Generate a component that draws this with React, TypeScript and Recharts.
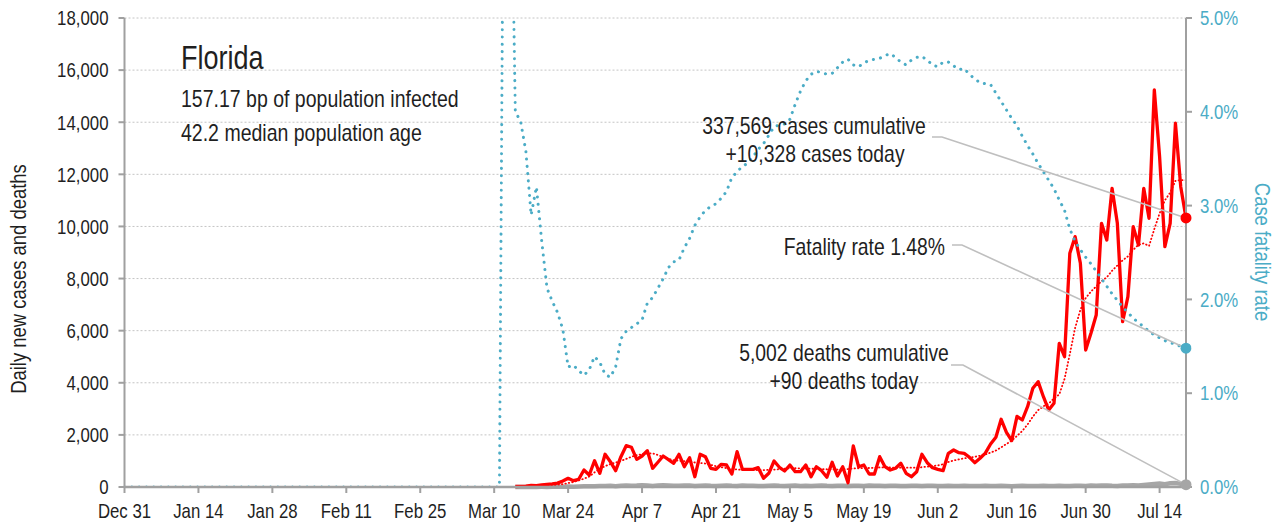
import React from 'react';
import { ComposedChart, Line, XAxis, YAxis, CartesianGrid } from 'recharts';

// Liberation Sans squeezed to 82% width stands in for the narrow face of the original
const FONT = "'Liberation Sans', Arial, sans-serif";
const SQUEEZE = 0.82;
const RED = '#ff0000';
const TEAL = '#4bacc6';
const GRAY = '#a6a6a6';
const AXIS = '#a0a0a0';
const LEADER = '#bfbfbf';
const INK = '#1f1f1f';

// day 0 = Dec 31; the daily series start at day 70 (Mar 10)
const FIRST_DAY = 70;

const tickDays = [0, 14, 28, 42, 56, 70, 84, 98, 112, 126, 140, 154, 168, 182, 196];
const tickLabels = ['Dec 31', 'Jan 14', 'Jan 28', 'Feb 11', 'Feb 25', 'Mar 10', 'Mar 24', 'Apr 7',
  'Apr 21', 'May 5', 'May 19', 'Jun 2', 'Jun 16', 'Jun 30', 'Jul 14'];
const leftTicks = [0, 2000, 4000, 6000, 8000, 10000, 12000, 14000, 16000, 18000];
const rightTicks = [0, 0.01, 0.02, 0.03, 0.04, 0.05];

const dailyCases = [
  null, null, null, null,
  20, 25, 35, 60, 50, 80, 100, 120, 150, 230,
  334, 242, 296, 652, 460, 1009, 526, 1255, 971, 626,
  1163, 1585, 1524, 1063, 1190, 1393, 718, 950, 1190, 1050,
  910, 1255, 779, 1124, 395, 1255, 1163, 718, 679, 871,
  844, 499, 1355, 679, 680, 679, 741, 334, 526, 998,
  756, 614, 844, 587, 587, 844, 395, 779, 626, 372,
  948, 422, 779, 165, 1574, 779, 844, 499, 499, 1163,
  779, 652, 718, 910, 526, 395, 587, 1255, 933, 741,
  679, 626, 1293, 1420, 1316, 1293, 1140, 933, 1102, 1300,
  1650, 1907, 2598, 2100, 1780, 2710, 2571, 3082, 3788, 4043,
  3466, 2955, 3212, 5515, 5001, 8969, 9607, 8586, 5258, 5899,
  6601, 10121, 9480, 11464, 10121, 6345, 7304, 9990, 9288, 11464,
  10313, 15237, 12677, 9223, 10121, 13960, 11526, 10328,
];

const casesTrend = [
  0, 2, 4, 6,
  8, 12, 16, 22, 30, 40, 53, 67, 85, 110,
  150, 190, 250, 320, 400, 560, 700, 800, 880, 940,
  1000, 1080, 1160, 1220, 1260, 1290, 1290, 1230, 1150, 1080,
  1030, 1010, 990, 970, 940, 920, 900, 850, 800, 760,
  720, 690, 670, 660, 655, 650, 650, 650, 655, 665,
  685, 705, 720, 720, 715, 710, 700, 700, 690, 680,
  680, 670, 680, 690, 710, 720, 730, 730, 740, 750,
  755, 750, 745, 740, 740, 740, 740, 760, 780, 800,
  830, 870, 960, 1020, 1060, 1100, 1130, 1160, 1200, 1250,
  1320, 1400, 1520, 1650, 1780, 1960, 2150, 2400, 2700, 2950,
  3100, 3200, 3400, 3550, 4150, 5100, 6100, 6800, 7250, 7500,
  7700, 7900, 8050, 8300, 8500, 8700, 8850, 9100, 9300, 9350,
  9250, 9900, 10500, 11000, 11300, 11750, 11780, 11780,
];

const dailyDeaths = [
  null, null, null, null,
  0, 1, 2, 2, 3, 5, 4, 8, 10, 12,
  15, 10, 20, 25, 30, 28, 35, 40, 45, 30,
  45, 60, 50, 55, 70, 60, 40, 55, 65, 60,
  50, 45, 60, 55, 40, 50, 60, 45, 40, 50,
  55, 45, 40, 60, 50, 45, 40, 35, 50, 55,
  45, 40, 50, 55, 40, 45, 35, 50, 60, 45,
  40, 50, 45, 35, 50, 45, 40, 55, 50, 45,
  40, 50, 45, 35, 40, 50, 45, 40, 50, 45,
  40, 35, 45, 40, 35, 45, 40, 35, 40, 45,
  40, 35, 45, 40, 30, 40, 45, 40, 35, 40,
  45, 40, 35, 45, 40, 35, 50, 45, 40, 55,
  50, 60, 55, 45, 40, 60, 55, 70, 60, 80,
  100, 120, 130, 110, 140, 150, 120, 90,
];

const fatalityRate = [
  0, 0, 0.09, 0.075,
  0.040, 0.039, 0.0358, 0.029, 0.032, 0.0262, 0.0212, 0.0198, 0.0186, 0.0168,
  0.0128, 0.0130, 0.0124, 0.0119, 0.0125, 0.0139, 0.0133, 0.0120, 0.0117, 0.0128,
  0.0158, 0.0166, 0.0170, 0.0174, 0.0178, 0.0196, 0.0202, 0.0212, 0.0222, 0.0234,
  0.0240, 0.0242, 0.0255, 0.0265, 0.0279, 0.0288, 0.0295, 0.0299, 0.0302, 0.0308,
  0.0315, 0.0330, 0.0336, 0.0342, 0.0345, 0.0352, 0.0360, 0.0366, 0.0375, 0.0384,
  0.0386, 0.0387, 0.0392, 0.0408, 0.0422, 0.0433, 0.0440, 0.0443, 0.0442, 0.0440,
  0.0441, 0.0447, 0.0453, 0.0456, 0.0450, 0.0448, 0.0452, 0.0455, 0.0456, 0.0457,
  0.0460, 0.0462, 0.0458, 0.0453, 0.0450, 0.0455, 0.0458, 0.0459, 0.0455, 0.0450,
  0.0448, 0.0453, 0.0453, 0.0449, 0.0445, 0.0446, 0.0440, 0.0435, 0.0431, 0.0430,
  0.0429, 0.0420, 0.0411, 0.0402, 0.0393, 0.0385, 0.0374, 0.0364, 0.0355, 0.0345,
  0.0336, 0.0327, 0.0318, 0.0306, 0.0295, 0.0275, 0.0262, 0.0253, 0.0245, 0.0238,
  0.0230, 0.0222, 0.0214, 0.0206, 0.0199, 0.0192, 0.0186, 0.0180, 0.0175, 0.0171,
  0.0166, 0.0162, 0.0159, 0.0156, 0.0154, 0.0152, 0.0150, 0.0148,
];

const lastSeries = dailyCases.length - 1;

const data = [
  { day: 0, trend: 0, rate: 0 },
  ...dailyCases.map((c, i) => ({
    day: FIRST_DAY + i,
    cases: c,
    trend: casesTrend[i],
    deaths: dailyDeaths[i],
    rate: fatalityRate[i],
    rateEnd: i === lastSeries ? fatalityRate[i] : null,
  })),
];
const lastIndex = data.length - 1;

// leader line anchors: [x start, x elbow, y]
const endMarker = (color: string | null, anchor: [number, number, number]) => (props: any) => {
  const { cx, cy, index } = props;
  if (index !== lastIndex || cx == null || cy == null) return <g key={`m-${index}`} />;
  return (
    <g key={`m-${index}`}>
      <polyline
        points={`${anchor[0]},${anchor[2]} ${anchor[1]},${anchor[2]} ${cx},${cy}`}
        fill="none"
        stroke={LEADER}
        strokeWidth={1.6}
      />
      {color && <circle cx={cx} cy={cy} r={5.5} fill={color} />}
    </g>
  );
};

// text drawn at (x, y) and squeezed horizontally around that point
function NarrowText({ x, y, size, anchor = 'start', fill = INK, rotate = 0, dy, baseline, children }: any) {
  return (
    <g transform={`translate(${x} ${y}) rotate(${rotate}) scale(${SQUEEZE} 1)`}>
      <text
        x={0}
        y={0}
        dy={dy}
        fontSize={size}
        fontFamily={FONT}
        textAnchor={anchor}
        dominantBaseline={baseline}
        fill={fill}
      >
        {children}
      </text>
    </g>
  );
}

const XTick = (props: any) => (
  <NarrowText x={props.x} y={props.y} size={20.5} anchor="middle" dy="0.71em">
    {tickLabels[tickDays.indexOf(props.payload.value)]}
  </NarrowText>
);

const LeftTick = (props: any) => (
  <NarrowText x={props.x} y={props.y} size={20.5} anchor="end" dy="0.355em">
    {props.payload.value.toLocaleString('en-US')}
  </NarrowText>
);

const RightTick = (props: any) => (
  <NarrowText x={props.x} y={props.y} size={20.5} anchor="start" dy="0.355em" fill={TEAL}>
    {`${(props.payload.value * 100).toFixed(1)}%`}
  </NarrowText>
);

export default function App() {
  return (
    <div style={{ position: 'absolute', left: 0, top: 0, width: 1283, height: 529, background: '#fff' }}>
      <ComposedChart width={1283} height={529} data={data} margin={{ top: 18, right: 0, bottom: 0, left: 0 }}>
        <CartesianGrid yAxisId="left" vertical={false} stroke="#c4c4c4" strokeDasharray="2 2" />
        <XAxis
          dataKey="day"
          type="number"
          domain={[0, 201]}
          ticks={tickDays}
          interval={0}
          height={42}
          tick={<XTick />}
          tickSize={6}
          tickMargin={10}
          axisLine={{ stroke: AXIS, strokeWidth: 2.5 }}
          tickLine={{ stroke: AXIS, strokeWidth: 2 }}
        />
        <YAxis
          yAxisId="left"
          orientation="left"
          width={124.5}
          domain={[0, 18000]}
          ticks={leftTicks}
          interval={0}
          tick={<LeftTick />}
          tickSize={6}
          tickMargin={10}
          axisLine={{ stroke: AXIS, strokeWidth: 2 }}
          tickLine={{ stroke: AXIS, strokeWidth: 2 }}
        />
        <YAxis
          yAxisId="right"
          orientation="right"
          width={97}
          domain={[0, 0.05]}
          allowDataOverflow
          ticks={rightTicks}
          interval={0}
          tick={<RightTick />}
          tickSize={6}
          tickMargin={8}
          axisLine={{ stroke: AXIS, strokeWidth: 2 }}
          tickLine={{ stroke: AXIS, strokeWidth: 2 }}
        />
        <Line
          yAxisId="left"
          dataKey="deaths"
          stroke={GRAY}
          strokeWidth={4.5}
          dot={endMarker(GRAY, [951, 963, 365])}
          isAnimationActive={false}
        />
        <Line
          yAxisId="left"
          dataKey="trend"
          stroke={RED}
          strokeWidth={1.8}
          strokeDasharray="0.5 3"
          strokeLinecap="round"
          dot={false}
          isAnimationActive={false}
        />
        <Line
          yAxisId="left"
          dataKey="cases"
          stroke={RED}
          strokeWidth={3.3}
          strokeLinejoin="round"
          dot={endMarker(RED, [932, 942, 137])}
          isAnimationActive={false}
        />
        <Line
          yAxisId="right"
          dataKey="rate"
          stroke={TEAL}
          strokeWidth={3}
          strokeDasharray="0.1 7.2"
          strokeLinecap="round"
          dot={endMarker(null, [952, 962, 245])}
          isAnimationActive={false}
        />
        <Line
          yAxisId="right"
          dataKey="rateEnd"
          stroke="none"
          dot={{ r: 5.5, fill: TEAL, stroke: TEAL, strokeWidth: 0, clipDot: false }}
          isAnimationActive={false}
        />
      </ComposedChart>
      <svg
        width={1283}
        height={529}
        style={{ position: 'absolute', left: 0, top: 0, pointerEvents: 'none' }}
      >
        <NarrowText x={181} y={69} size={33}>Florida</NarrowText>
        <NarrowText x={181} y={107} size={23.8}>157.17 bp of population infected</NarrowText>
        <NarrowText x={181} y={141} size={23.8}>42.2 median population age</NarrowText>

        <NarrowText x={814} y={134} size={23.6} anchor="middle">337,569 cases cumulative</NarrowText>
        <NarrowText x={815} y={162} size={23.6} anchor="middle">+10,328 cases today</NarrowText>
        <NarrowText x={945} y={255} size={23.6} anchor="end">Fatality rate 1.48%</NarrowText>
        <NarrowText x={844} y={361} size={23.6} anchor="middle">5,002 deaths cumulative</NarrowText>
        <NarrowText x={844} y={389} size={23.6} anchor="middle">+90 deaths today</NarrowText>

        <NarrowText x={18} y={279} size={22.5} anchor="middle" rotate={-90} baseline="central">
          Daily new cases and deaths
        </NarrowText>
        <NarrowText x={1263} y={252} size={22.5} anchor="middle" rotate={90} baseline="central" fill={TEAL}>
          Case fatality rate
        </NarrowText>
      </svg>
    </div>
  );
}
